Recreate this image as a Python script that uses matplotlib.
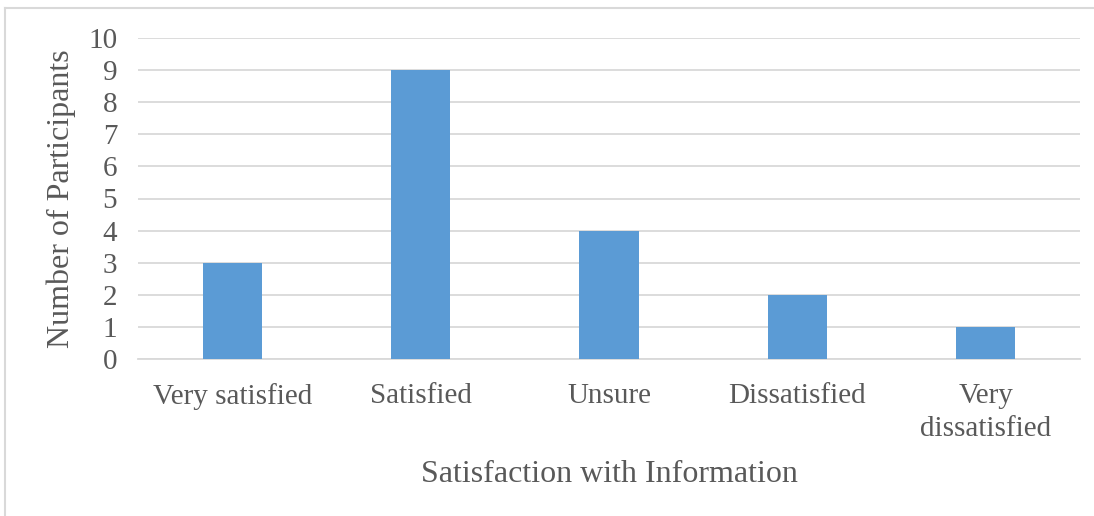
import matplotlib.pyplot as plt
from matplotlib.lines import Line2D

categories = ["Very satisfied", "Satisfied", "Unsure", "Dissatisfied", "Very\ndissatisfied"]
participants = [3, 9, 4, 2, 1]
y_ticks = list(range(0, 11))

TEXT_COLOR = "#595959"
GRID_COLOR = "#d9d9d9"
BAR_COLOR = "#5b9bd5"

plt.rcParams["font.family"] = ["Liberation Serif", "DejaVu Serif"]

fig = plt.figure(figsize=(10.94, 5.16), dpi=100)
W, H = 1094, 516

# chart-area border (only top and left edges fall inside the image)
top = 1 - 8 / H
left = 5 / W
fig.lines.append(Line2D([left, 1.5], [top, top], transform=fig.transFigure,
                        color=GRID_COLOR, linewidth=1.5))
fig.lines.append(Line2D([left, left], [-0.5, top], transform=fig.transFigure,
                        color=GRID_COLOR, linewidth=1.5))

ax = fig.add_axes([138 / W, 1 - 359 / H, 942 / W, 321 / H])
x = range(len(categories))
ax.bar(x, participants, width=0.315, color=BAR_COLOR, zorder=3)

ax.set_xlim(-0.5, len(categories) - 0.5)
ax.set_ylim(0, 10)
ax.set_yticks(y_ticks)
ax.set_xticks(list(x))
ax.set_xticklabels(categories, linespacing=1.35)
ax.yaxis.grid(True, color=GRID_COLOR, linewidth=1.3, zorder=0)
ax.tick_params(axis="both", length=0, labelsize=21, colors=TEXT_COLOR)
ax.tick_params(axis="x", pad=17)
ax.tick_params(axis="y", pad=15)
for side in ["top", "right", "left"]:
    ax.spines[side].set_visible(False)
ax.spines["bottom"].set_color(GRID_COLOR)
ax.spines["bottom"].set_linewidth(1.3)

ax.set_xlabel("Satisfaction with Information", fontsize=23, color=TEXT_COLOR, labelpad=13)
ax.set_ylabel("Number of Participants", fontsize=23, color=TEXT_COLOR, labelpad=9)

fig.savefig("out.png", dpi=100)
